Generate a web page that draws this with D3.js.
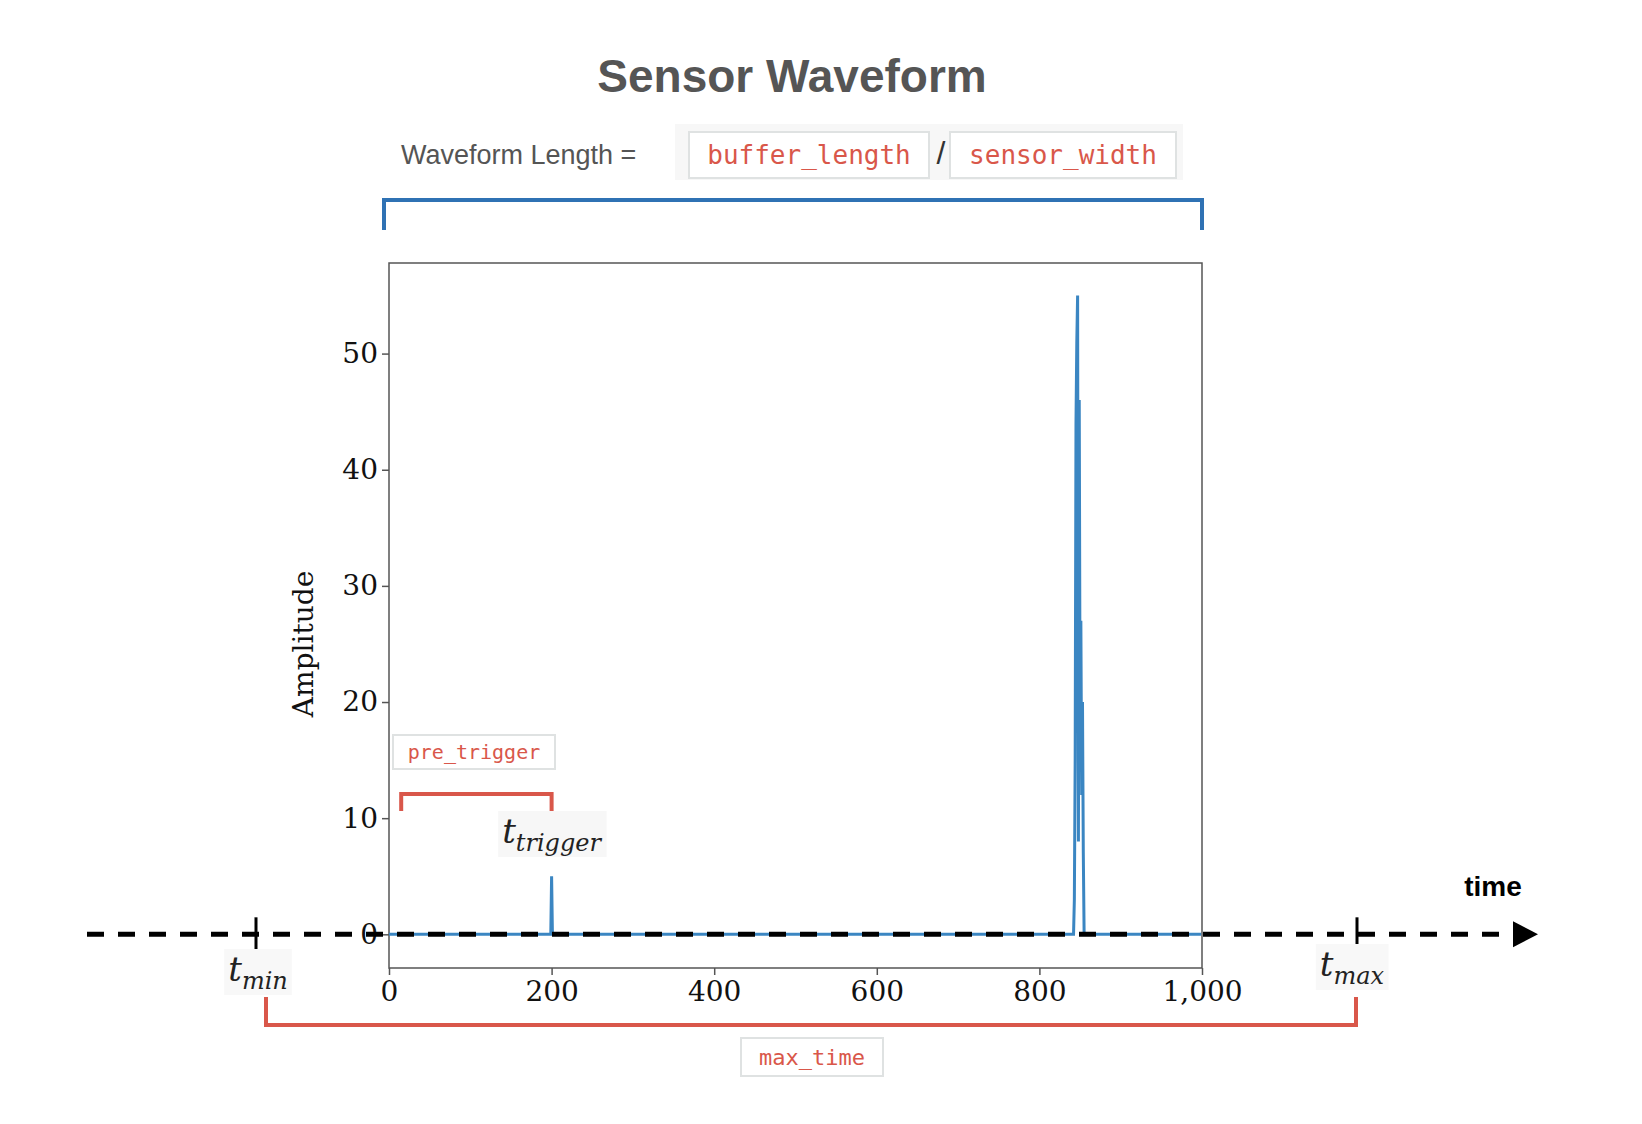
<!DOCTYPE html>
<html>
<head>
<meta charset="utf-8">
<script src="https://cdn.jsdelivr.net/npm/d3@7"></script>
<style>
  body { margin: 0; background: #fff; }
</style>
</head>
<body>
<svg id="chart" width="1642" height="1124"></svg>
<script>
// waveform samples [time, amplitude]
let sampleTimes = [0, 199, 200, 201, 842, 843, 844, 845, 846, 847, 848, 849, 850, 851, 852, 853, 854, 855, 857, 999]
let sampleValues = [0, 0, 5, 0, 0, 3, 15, 44, 51, 55, 8, 46, 20, 27, 12, 20, 7, 0, 0, 0]
let xTicks = [0, 200, 400, 600, 800, 1000]
let yTicks = [0, 10, 20, 30, 40, 50]
let triggerTime = 200
let preTriggerStart = 15

let x = d3.scaleLinear().domain([0, 1000]).range([389, 1202])
let y = d3.scaleLinear().domain([-2.9, 57.8]).range([968, 263])

let svg = d3.select("#chart")
let red = "#d9574a"
let blue = "#2f72b4"

// title
svg.append("text")
    .attr("x", 792).attr("y", 92)
    .attr("text-anchor", "middle")
    .attr("font-family", "Liberation Sans, Arial")
    .attr("font-weight", "bold")
    .attr("font-size", 46)
    .attr("fill", "#555")
    .text("Sensor Waveform")

// subtitle
svg.append("text")
    .attr("x", 401).attr("y", 164)
    .attr("font-family", "Liberation Sans, Arial")
    .attr("font-size", 27)
    .attr("fill", "#555")
    .text("Waveform Length =")

svg.append("rect").attr("x", 675).attr("y", 124).attr("width", 508).attr("height", 56).attr("fill", "#f7f7f7")

function codeBox(cx, cy, w, h, label, size) {
    svg.append("rect")
        .attr("x", cx - w / 2).attr("y", cy - h / 2)
        .attr("width", w).attr("height", h)
        .attr("fill", "#fff")
        .attr("stroke", "#dfe2e2").attr("stroke-width", 2)
    svg.append("text")
        .attr("x", cx).attr("y", cy + size * 0.35)
        .attr("text-anchor", "middle")
        .attr("font-family", "DejaVu Sans Mono, monospace")
        .attr("font-size", size)
        .attr("fill", red)
        .text(label)
}
codeBox(809, 155, 240, 46, "buffer_length", 26)
codeBox(1063, 155, 226, 46, "sensor_width", 26)
svg.append("text")
    .attr("x", 941).attr("y", 164)
    .attr("text-anchor", "middle")
    .attr("font-family", "Liberation Sans, Arial")
    .attr("font-size", 32)
    .attr("fill", "#333")
    .text("/")

// blue bracket over waveform length
svg.append("path")
    .attr("d", `M${x(0) - 5},230 V200 H${x(1000)} V230`)
    .attr("fill", "none").attr("stroke", blue).attr("stroke-width", 4)

// plot frame
svg.append("rect")
    .attr("x", x(0)).attr("y", y.range()[1])
    .attr("width", x(1000) - x(0)).attr("height", y.range()[0] - y.range()[1])
    .attr("fill", "none").attr("stroke", "#555").attr("stroke-width", 1.5)

let axisL = d3.axisLeft(y).tickValues(yTicks).tickSize(7).tickPadding(4)
let axisB = d3.axisBottom(x).tickValues(xTicks).tickSize(7).tickPadding(6)

let gy = svg.append("g").attr("transform", `translate(${x(0)},0)`).call(axisL)
let gx = svg.append("g").attr("transform", `translate(0,${y.range()[0]})`).call(axisB)
;[gx, gy].forEach(g => {
    g.select(".domain").remove()
    g.selectAll("line").attr("stroke", "#555").attr("stroke-width", 1.5)
    g.selectAll("text")
        .attr("font-family", "DejaVu Serif, Liberation Serif, serif")
        .attr("font-size", 28)
        .attr("fill", "#111")
})

svg.append("text")
    .attr("transform", `translate(313,${y(25)}) rotate(-90)`)
    .attr("text-anchor", "middle")
    .attr("font-family", "DejaVu Serif, Liberation Serif, serif")
    .attr("font-size", 28)
    .attr("fill", "#111")
    .text("Amplitude")

// waveform
let wave = sampleTimes.map((t, i) => [t, sampleValues[i]])
svg.append("path")
    .datum(wave)
    .attr("d", d3.line().x(d => x(d[0])).y(d => y(d[1])))
    .attr("fill", "none").attr("stroke", "#3b86c2").attr("stroke-width", 3)

// pre_trigger annotation
codeBox(474, 752, 162, 34, "pre_trigger", 20)
svg.append("path")
    .attr("d", `M${x(preTriggerStart)},811 V794 H${x(triggerTime)} V811`)
    .attr("fill", "none").attr("stroke", red).attr("stroke-width", 4)

function mathLabel(cx, cy, sub, bg) {
    let g = svg.append("g")
    let t = g.append("text")
        .attr("x", cx).attr("y", cy)
        .attr("text-anchor", "middle")
        .attr("font-family", "DejaVu Serif, Liberation Serif, serif")
        .attr("font-style", "italic")
        .attr("fill", "#222")
    t.append("tspan").attr("font-size", 34).text("t")
    t.append("tspan").attr("font-size", 24).attr("dy", 8).text(sub)
    let b = t.node().getBBox()
    g.insert("rect", "text")
        .attr("x", b.x - 4).attr("y", b.y).attr("width", b.width + 8).attr("height", b.height)
        .attr("fill", bg)
}
mathLabel(x(triggerTime), 843, "trigger", "#f7f7f7")

// time axis (dashed)
let tMinX = 256, tMaxX = 1357, axisY = y(0)
svg.append("line")
    .attr("x1", 87).attr("x2", 1515).attr("y1", axisY).attr("y2", axisY)
    .attr("stroke", "#000").attr("stroke-width", 5).attr("stroke-dasharray", "17,14")
svg.append("path")
    .attr("d", `M1513,${axisY - 13} L1538,${axisY} L1513,${axisY + 13} Z`)
    .attr("fill", "#000")
;[tMinX, tMaxX].forEach(px => {
    svg.append("line")
        .attr("x1", px).attr("x2", px).attr("y1", axisY - 17).attr("y2", axisY + 17)
        .attr("stroke", "#000").attr("stroke-width", 3)
})
svg.append("text")
    .attr("x", 1493).attr("y", 896)
    .attr("text-anchor", "middle")
    .attr("font-family", "Liberation Sans, Arial")
    .attr("font-weight", "bold")
    .attr("font-size", 28)
    .text("time")

mathLabel(258, 981, "min", "#f8f8f8")
mathLabel(1352, 976, "max", "#f8f8f8")

// max_time bracket
svg.append("path")
    .attr("d", `M266,997 V1025 H1356 V997`)
    .attr("fill", "none").attr("stroke", red).attr("stroke-width", 4)
codeBox(812, 1057, 142, 38, "max_time", 22)
</script>
</body>
</html>
